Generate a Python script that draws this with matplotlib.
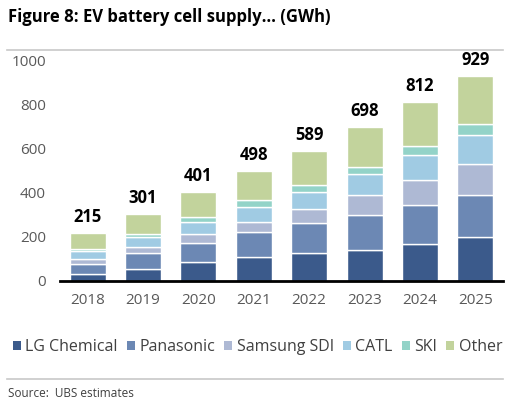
import matplotlib

matplotlib.use("Agg")
import matplotlib.pyplot as plt
import numpy as np
from matplotlib.lines import Line2D
from matplotlib.patches import Patch

plt.rcParams["font.family"] = ["Open Sans", "DejaVu Sans"]

years = ["2018", "2019", "2020", "2021", "2022", "2023", "2024", "2025"]
totals = [215, 301, 401, 498, 589, 698, 812, 929]

lg_chemical = [30, 53, 85, 109, 126, 141, 165, 199]
panasonic = [47, 71, 85, 112, 134, 158, 177, 188]
samsung_sdi = [20, 30, 42, 47, 64, 88, 113, 143]
catl = [38, 46, 53, 68, 80, 96, 115, 132]
ski = [7, 11, 24, 29, 32, 34, 42, 48]
other = [73, 90, 112, 133, 153, 181, 200, 219]

series_names = ["LG Chemical", "Panasonic", "Samsung SDI", "CATL", "SKI", "Other"]
series_values = [lg_chemical, panasonic, samsung_sdi, catl, ski, other]
colors = ["#3B5A8B", "#6C88B4", "#AEB9D4", "#A0CBE3", "#93D3C8", "#C2D39C"]

fig = plt.figure(figsize=(5.15, 4.11), dpi=100)
ax = fig.add_axes([0.1165, 0.317, 0.8602, 0.5363])

x = np.arange(len(years))
bottom = np.zeros(len(years))
for name, vals, col in zip(series_names, series_values, colors):
    ax.bar(x, vals, 0.65, bottom=bottom, color=col, edgecolor="white",
           linewidth=1.0, label=name, zorder=2)
    bottom += np.array(vals)

for xi, t in zip(x, totals):
    ax.annotate(f"{t}", (xi, t), textcoords="offset points", xytext=(0, 5),
                ha="center", va="bottom", fontsize=12, fontweight="bold",
                color="black")

ax.set_xlim(-0.5, len(years) - 0.5)
ax.set_ylim(0, 1000)
ax.set_yticks([0, 200, 400, 600, 800, 1000])
ax.set_xticks(x)
ax.set_xticklabels(years)
ax.tick_params(axis="both", length=0, labelsize=11, labelcolor="#595959")
ax.tick_params(axis="y", pad=10)
ax.tick_params(axis="x", pad=9)
for side in ["top", "right", "left"]:
    ax.spines[side].set_visible(False)
ax.spines["bottom"].set_linewidth(2.0)
ax.spines["bottom"].set_color("black")
ax.spines["bottom"].set_zorder(3)

handles = [Patch(facecolor=c, edgecolor="none") for c in colors]
fig.legend(handles, series_names, loc="center", bbox_to_anchor=(0.5, 1 - 347 / 411),
           ncol=6, frameon=False, fontsize=11.5, labelcolor="#404040",
           handlelength=0.5, handleheight=0.5, handletextpad=0.3,
           columnspacing=0.55)

fig.text(8 / 515, 1 - 17 / 411, "Figure 8: EV battery cell supply\u2026 (GWh)",
         fontsize=12, fontweight="bold", color="black", va="center", ha="left")
fig.add_artist(Line2D([7 / 515, 503 / 515], [1 - 50 / 411, 1 - 50 / 411],
                      color="#C8C8C8", linewidth=1.2))
fig.add_artist(Line2D([7 / 515, 503 / 515], [1 - 379 / 411, 1 - 379 / 411],
                      color="#C8C8C8", linewidth=1.2))
fig.text(8 / 515, 1 - 393 / 411, "Source:  UBS estimates", fontsize=8.5,
         color="#404040", va="center", ha="left")

fig.savefig("out.png", dpi=100)
